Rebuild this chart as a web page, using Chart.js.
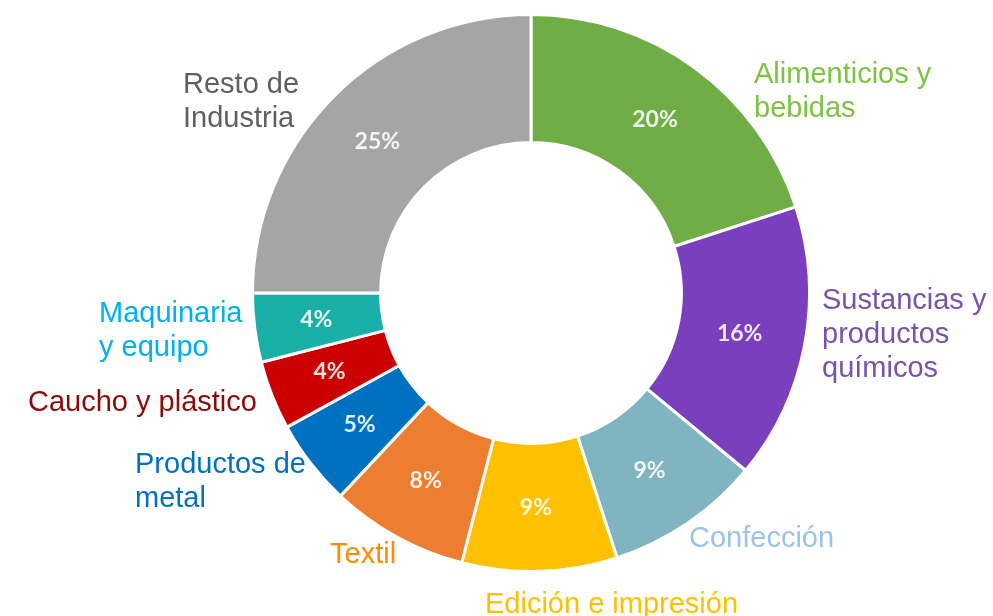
<!DOCTYPE html>
<html>
<head>
<meta charset="utf-8">
<script src="https://cdn.jsdelivr.net/npm/chart.js@4.4.1/dist/chart.umd.min.js"></script>
<style>
    html, body { margin: 0; padding: 0; background: #ffffff; }
    #wrap { position: relative; width: 993px; height: 616px; }
</style>
</head>
<body>
<div id="wrap"><canvas id="donut"></canvas></div>
<script>
// data
const CATEGORIES = [
    ['Alimenticios y', 'bebidas'],
    ['Sustancias y', 'productos', 'químicos'],
    ['Confección'],
    ['Edición e impresión'],
    ['Textil'],
    ['Productos de', 'metal'],
    ['Caucho y plástico'],
    ['Maquinaria', 'y equipo'],
    ['Resto de', 'Industria']
];
const SHARES = [20, 16, 9, 9, 8, 5, 4, 4, 25];

// styles
const SLICE_COLORS = ['#70ad47', '#7a3fbd', '#80b4c0', '#ffc000', '#ed7d31', '#0070c0', '#cc0000', '#1aafa6', '#a5a5a5'];
const LABEL_COLORS = ['#7dc242', '#7b52a8', '#9dc3e6', '#ffc000', '#ff8c00', '#0070c0', '#8b0a0a', '#00b0f0', '#5f5f5f'];
// label anchor (left x, first baseline), offsets from the ring's centre
const LABEL_OFFSETS = [
    [223, -210], [291, 16], [158, 254], [-46, 320], [-201, 270],
    [-396, 180], [-503, 118], [-432, 29], [-348, -200]
];
const LINE_HEIGHT = 34;
const LABEL_FONT = '29px "Liberation Sans", Arial, sans-serif';
const PCT_FONT = 'bold 23px Lato, "Open Sans", sans-serif';

const labelPlugin = {
    id: 'sliceLabels',
    afterDatasetsDraw(chart) {
        const ctx = chart.ctx;
        const arcs = chart.getDatasetMeta(0).data;
        ctx.save();
        ctx.textAlign = 'center';
        ctx.textBaseline = 'middle';
        ctx.font = PCT_FONT;
        ctx.fillStyle = 'rgba(255,255,255,0.88)';
        arcs.forEach((arc, i) => {
            const p = arc.tooltipPosition();
            ctx.fillText(SHARES[i] + '%', p.x - 2, p.y);
        });
        const cx = arcs[0].x, cy = arcs[0].y;
        ctx.textAlign = 'left';
        ctx.textBaseline = 'alphabetic';
        ctx.font = LABEL_FONT;
        CATEGORIES.forEach((lines, i) => {
            ctx.fillStyle = LABEL_COLORS[i];
            lines.forEach((line, j) => {
                ctx.fillText(line, cx + LABEL_OFFSETS[i][0], cy + LABEL_OFFSETS[i][1] + j * LINE_HEIGHT);
            });
        });
        ctx.restore();
    }
};

new Chart(document.getElementById('donut'), {
    type: 'doughnut',
    data: {
        labels: CATEGORIES.map(l => l.join(' ')),
        datasets: [{
            data: SHARES,
            backgroundColor: SLICE_COLORS,
            borderColor: '#ffffff',
            borderWidth: 3
        }]
    },
    options: {
        responsive: true,
        maintainAspectRatio: false,
        animation: false,
        cutout: '54%',
        layout: { padding: { top: 13, bottom: 43, left: 251, right: 182 } },
        plugins: {
            legend: { display: false },
            tooltip: { enabled: false }
        }
    },
    plugins: [labelPlugin]
});
</script>
</body>
</html>
